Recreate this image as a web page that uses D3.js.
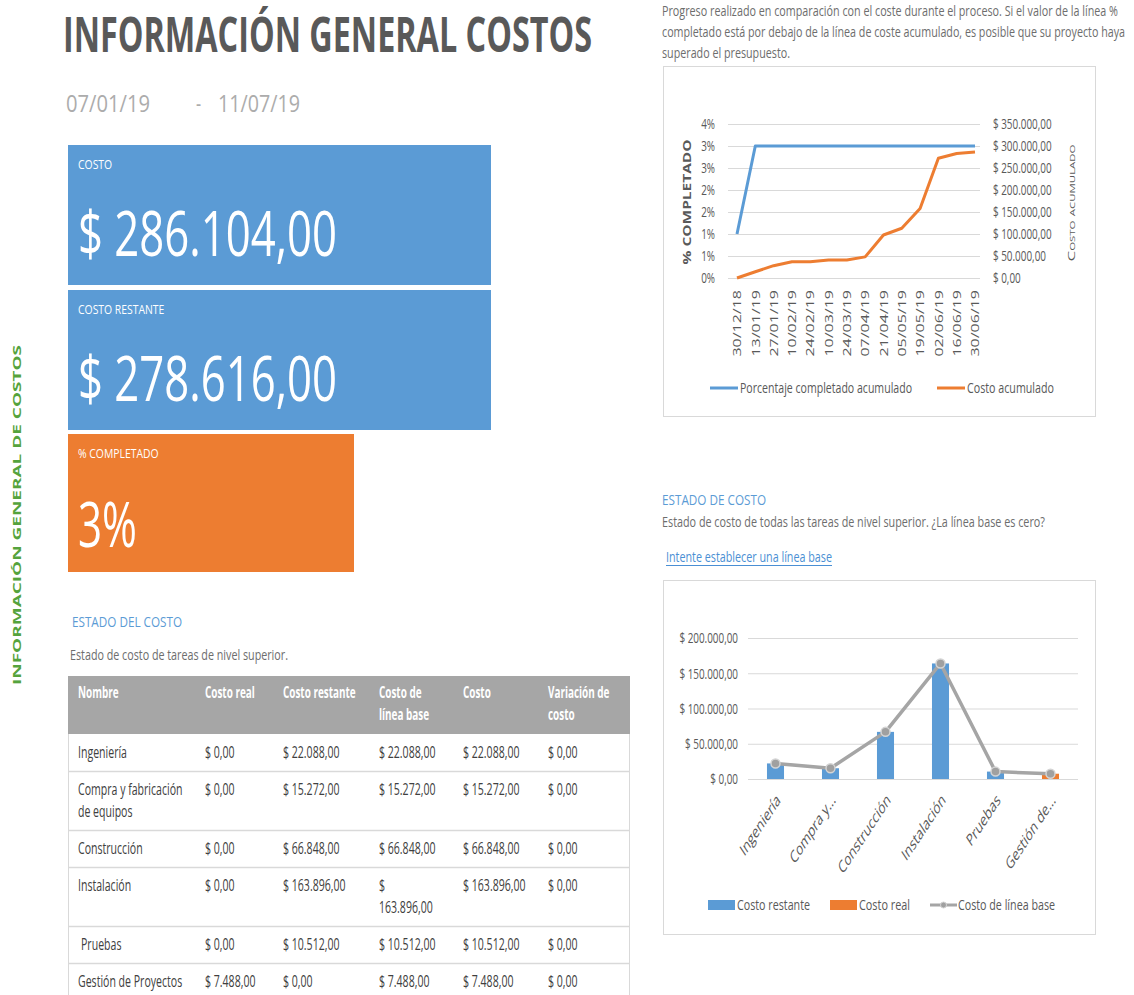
<!DOCTYPE html>
<html>
<head>
<meta charset="utf-8">
<script src="https://cdn.jsdelivr.net/npm/d3@7"></script>
<style>
  body { margin: 0; background: #fff; }
  svg { display: block; }
</style>
</head>
<body>
<script>
// ---------- data ----------
const reportTitle = "INFORMACIÓN GENERAL COSTOS";
const sideTitle = "INFORMACIÓN GENERAL DE COSTOS";
const reportStart = "07/01/19";
const reportEnd = "11/07/19";

const kpiLabels = ["COSTO", "COSTO RESTANTE", "% COMPLETADO"];
const kpiValues = [286104, 278616, 3];

const tableHeaders = ["Nombre", "Costo real", "Costo restante", "Costo de línea base", "Costo", "Variación de costo"];
const taskNames = ["Ingeniería", "Compra y fabricación de equipos", "Construcción", "Instalación", "Pruebas", "Gestión de Proyectos"];
const taskShort = ["Ingeniería", "Compra y...", "Construcción", "Instalación", "Pruebas", "Gestión de..."];
const costoReal = [0, 0, 0, 0, 0, 7488];
const costoRestante = [22088, 15272, 66848, 163896, 10512, 0];
const costoLineaBase = [22088, 15272, 66848, 163896, 10512, 7488];
const costoTotal = [22088, 15272, 66848, 163896, 10512, 7488];
const variacionCosto = [0, 0, 0, 0, 0, 0];

const fechas = ["30/12/18", "13/01/19", "27/01/19", "10/02/19", "24/02/19", "10/03/19", "24/03/19",
                "07/04/19", "21/04/19", "05/05/19", "19/05/19", "02/06/19", "16/06/19", "30/06/19"];
const pctCompletado = [1, 3, 3, 3, 3, 3, 3, 3, 3, 3, 3, 3, 3, 3];
const costoAcumulado = [0, 14300, 28000, 37000, 37000, 41000, 41000, 48000, 97700, 113000, 158000, 272000, 283000, 286104];
const pctTicks = [0, 0.5, 1, 1.5, 2, 2.5, 3, 3.5];
const costTicks = [0, 50000, 100000, 150000, 200000, 250000, 300000, 350000];
const statusTicks = [0, 50000, 100000, 150000, 200000];

const introLines = [
  "Progreso realizado en comparación con el coste durante el proceso. Si el valor de la línea %",
  "completado está por debajo de la línea de coste acumulado, es posible que su proyecto haya",
  "superado el presupuesto."
];

// ---------- style ----------
const FONT = "'Open Sans','Noto Sans',sans-serif";
const SX = 0.66;                 // horizontal squeeze used for all lettering
const BLUE = "#5b9bd5", ORANGE = "#ed7d31", GRAY = "#a5a5a5", GRID = "#d9d9d9";
const INK = "#595959";

const money = d3.formatLocale({ decimal: ",", thousands: ".", grouping: [3], currency: ["$ ", ""] }).format("$,.2f");

const svg = d3.select("body").append("svg").attr("width", 1134).attr("height", 995);
svg.append("rect").attr("width", 1134).attr("height", 995).attr("fill", "#fff");

function txt(parent, x, y, s, o = {}) {
  const sx = o.sx ?? SX;
  const t = parent.append("text")
    .attr("transform", `translate(${x},${y}) scale(${sx},1)${o.rotate ? ` rotate(${o.rotate})` : ""}`)
    .attr("font-family", FONT)
    .attr("font-size", o.size ?? 15)
    .attr("font-weight", o.weight ?? 400)
    .attr("fill", o.fill ?? INK)
    .attr("text-anchor", o.anchor ?? "start")
    .text(s);
  if (o.dy) t.attr("dy", o.dy);
  if (o.width) t.attr("textLength", o.width / sx).attr("lengthAdjust", "spacingAndGlyphs");
  if (o.len) t.attr("textLength", o.len).attr("lengthAdjust", "spacingAndGlyphs");
  if (o.variant) t.attr("font-variant", o.variant);
  return t;
}

function styleTicks(g, size, sx = SX) {
  g.select(".domain").remove();
  g.selectAll("text")
    .attr("font-family", FONT)
    .attr("font-size", size)
    .attr("fill", INK)
    .attr("transform", `scale(${sx},1)`);
}

// ---------- header ----------
txt(svg, 63, 52, reportTitle, { size: 49, weight: 700, fill: "#595959", width: 529 });
txt(svg, 66, 112, reportStart, { size: 24, fill: "#acacac", width: 84 });
txt(svg, 196, 112, "-", { size: 24, fill: "#acacac" });
txt(svg, 218, 112, reportEnd, { size: 24, fill: "#acacac", width: 82 });

// side caption
txt(svg, 21, 515, sideTitle, { size: 14, weight: 700, fill: "#55a33c", anchor: "middle", rotate: -90, len: 340, sx: 0.8 });

// ---------- KPI tiles ----------
const tiles = [
  { x: 68, y: 145, w: 423, h: 140, fill: BLUE, text: money(kpiValues[0]), tw: 259 },
  { x: 68, y: 290, w: 423, h: 140, fill: BLUE, text: money(kpiValues[1]), tw: 259 },
  { x: 68, y: 434, w: 286, h: 138, fill: ORANGE, text: kpiValues[2] + "%", tw: 59 }
];
tiles.forEach((t, i) => {
  svg.append("rect").attr("x", t.x).attr("y", t.y).attr("width", t.w).attr("height", t.h).attr("fill", t.fill);
  txt(svg, t.x + 10, t.y + 24, kpiLabels[i], { size: 13, fill: "#fff", sx: 0.8 });
  txt(svg, t.x + 10, t.y + 111 + (i === 2 ? 2 : 0), t.text, { size: 63, fill: "#fff", width: t.tw });
});

// ---------- cost status table ----------
txt(svg, 72, 627, "ESTADO DEL COSTO", { size: 15, fill: BLUE, width: 110 });
txt(svg, 70, 660, "Estado de costo de tareas de nivel superior.", { size: 15, fill: "#6d6d6d", width: 218 });

const colX = [78, 205, 283, 379, 463, 548];
const colWrap = [118, 74, 90, 59, 84, 80];
const tableLeft = 68, tableRight = 630;

function wrapLines(parent, s, maxW, size, weight, sx) {
  const probe = parent.append("text").attr("font-family", FONT).attr("font-size", size).attr("font-weight", weight);
  const words = s.split(" ");
  const lines = [];
  let cur = "";
  words.forEach(w => {
    const test = cur ? cur + " " + w : w;
    probe.text(test);
    if (cur && probe.node().getComputedTextLength() * sx > maxW) { lines.push(cur); cur = w; }
    else cur = test;
  });
  if (cur) lines.push(cur);
  probe.remove();
  return lines;
}

const table = svg.append("g");
// header band
const headSX = 0.62;
const headLines = tableHeaders.map((h, j) => wrapLines(table, h, colWrap[j] + 10, 16, 700, headSX));
const headH = 58;
table.append("rect").attr("x", tableLeft).attr("y", 676).attr("width", tableRight - tableLeft).attr("height", headH).attr("fill", "#a6a6a6");
headLines.forEach((ls, j) => ls.forEach((l, k) => txt(table, colX[j], 676 + 22 + k * 22, l, { size: 16, weight: 700, fill: "#fff", sx: headSX })));

// body rows
const rows = taskNames.map((n, i) => [n, money(costoReal[i]), money(costoRestante[i]), money(costoLineaBase[i]), money(costoTotal[i]), money(variacionCosto[i])]);
let rowTop = 676 + headH;
table.append("line").attr("x1", tableLeft + 0.5).attr("x2", tableLeft + 0.5).attr("y1", rowTop).attr("y2", 995).attr("stroke", GRID);
table.append("line").attr("x1", tableRight - 0.5).attr("x2", tableRight - 0.5).attr("y1", rowTop).attr("y2", 995).attr("stroke", GRID);
rows.forEach((cells, i) => {
  const cellLines = cells.map((c, j) => wrapLines(table, c, colWrap[j], 16, 400, SX));
  const n = d3.max(cellLines, l => l.length);
  cellLines.forEach((ls, j) => ls.forEach((l, k) =>
    txt(table, colX[j] + (j === 0 && i === 4 ? 3 : 0), rowTop + 24 + k * 22, l, { size: 16, fill: "#404040" })));
  rowTop += 15 + 22 * n;
  if (i < rows.length - 1)
    table.append("line").attr("x1", tableLeft).attr("x2", tableRight).attr("y1", rowTop + 0.5).attr("y2", rowTop + 0.5).attr("stroke", GRID).attr("stroke-width", 1.5);
});

// ---------- intro text ----------
const lineWidths = [456, 463, 128];
introLines.forEach((l, i) => txt(svg, 662, 16 + i * 21, l, { size: 14, fill: "#6d6d6d", width: lineWidths[i] }));

// ---------- chart 1: progress vs cumulative cost ----------
const c1 = svg.append("g");
c1.append("rect").attr("x", 663.5).attr("y", 66.5).attr("width", 432).attr("height", 350).attr("fill", "#fff").attr("stroke", GRID);

const xD = d3.scalePoint().domain(fechas).range([737, 975]);
const yP = d3.scaleLinear().domain([0, 3.5]).range([278, 124]);
const yC = d3.scaleLinear().domain([0, 350000]).range([278, 124]);

c1.selectAll(".grid").data(pctTicks).join("line")
  .attr("x1", 728).attr("x2", 980).attr("y1", d => yP(d) + 0.5).attr("y2", d => yP(d) + 0.5).attr("stroke", GRID);

const axL = c1.append("g").attr("transform", "translate(728,0)")
  .call(d3.axisLeft(yP).tickValues(pctTicks).tickFormat(d => Math.round(d) + "%").tickSize(0).tickPadding(13 / SX));
styleTicks(axL, 15);
const axR = c1.append("g").attr("transform", "translate(980,0)")
  .call(d3.axisRight(yC).tickValues(costTicks).tickFormat(money).tickSize(0).tickPadding(13 / SX));
styleTicks(axR, 15);
const axB = c1.append("g").attr("transform", "translate(0,278)")
  .call(d3.axisBottom(xD).tickSize(0));
axB.select(".domain").remove();
axB.selectAll("text")
  .attr("font-family", FONT).attr("font-size", 16).attr("fill", INK)
  .attr("x", 0).attr("y", 0).attr("dy", "0.35em").attr("text-anchor", "end")
  .attr("transform", `translate(0,12) scale(${SX},1) rotate(-90)`);

txt(c1, 688, 202, "% COMPLETADO", { size: 15, weight: 700, anchor: "middle", rotate: -90, len: 125, dy: "0.35em" });
txt(c1, 1072, 203, "Costo acumulado", { size: 14, anchor: "middle", rotate: -90, len: 117, dy: "0.35em", variant: "small-caps" });

c1.append("path").datum(costoAcumulado)
  .attr("d", d3.line().x((d, i) => xD(fechas[i])).y(d => yC(d)))
  .attr("fill", "none").attr("stroke", ORANGE).attr("stroke-width", 3).attr("stroke-linejoin", "round");
c1.append("path").datum(pctCompletado)
  .attr("d", d3.line().x((d, i) => xD(fechas[i])).y(d => yP(d)))
  .attr("fill", "none").attr("stroke", BLUE).attr("stroke-width", 3).attr("stroke-linejoin", "round");

// legend
c1.append("line").attr("x1", 710).attr("x2", 738).attr("y1", 388).attr("y2", 388).attr("stroke", BLUE).attr("stroke-width", 3);
txt(c1, 740, 393, "Porcentaje completado acumulado", { size: 15, width: 172 });
c1.append("line").attr("x1", 937).attr("x2", 965).attr("y1", 388).attr("y2", 388).attr("stroke", ORANGE).attr("stroke-width", 3);
txt(c1, 967, 393, "Costo acumulado", { size: 15, width: 87 });

// ---------- chart 2: cost status ----------
txt(svg, 662, 505, "ESTADO DE COSTO", { size: 15, fill: BLUE, width: 104 });
txt(svg, 662, 527, "Estado de costo de todas las tareas de nivel superior. ¿La línea base es cero?", { size: 14, fill: "#6d6d6d", width: 383 });
txt(svg, 666, 562, "Intente establecer una línea base", { size: 14, fill: "#4a8fd4", width: 166 });
svg.append("line").attr("x1", 666).attr("x2", 832).attr("y1", 565.5).attr("y2", 565.5).attr("stroke", "#4a8fd4");

const c2 = svg.append("g");
c2.append("rect").attr("x", 663.5).attr("y", 580.5).attr("width", 432).attr("height", 354).attr("fill", "#fff").attr("stroke", GRID);

const x2 = d3.scaleBand().domain(taskNames).range([748, 1078]).paddingInner(0.69).paddingOuter(0.345);
const y2 = d3.scaleLinear().domain([0, 200000]).range([779, 638]);

c2.selectAll(".grid").data(statusTicks).join("line")
  .attr("x1", 748).attr("x2", 1078).attr("y1", d => y2(d) + 0.5).attr("y2", d => y2(d) + 0.5).attr("stroke", GRID);

const ax2L = c2.append("g").attr("transform", "translate(748,0)")
  .call(d3.axisLeft(y2).tickValues(statusTicks).tickFormat(money).tickSize(0).tickPadding(10 / SX));
styleTicks(ax2L, 15);

const ax2B = c2.append("g").attr("transform", "translate(0,779)")
  .call(d3.axisBottom(x2).tickSize(0).tickFormat((d, i) => taskShort[i]));
ax2B.select(".domain").remove();
ax2B.selectAll("text")
  .attr("font-family", FONT).attr("font-size", 17).attr("fill", INK)
  .attr("x", 0).attr("y", 0).attr("dy", "0.35em").attr("text-anchor", "end")
  .attr("transform", `translate(3,18) scale(${SX},1) rotate(-45)`);

const stackRows = taskNames.map((n, i) => ({ name: n, restante: costoRestante[i], real: costoReal[i] }));
const series = d3.stack().keys(["restante", "real"])(stackRows);
const seriesColor = { restante: BLUE, real: ORANGE };
c2.selectAll(".series").data(series).join("g").attr("fill", s => seriesColor[s.key])
  .selectAll("rect").data(s => s).join("rect")
  .attr("x", d => x2(d.data.name)).attr("width", x2.bandwidth())
  .attr("y", d => y2(d[1])).attr("height", d => y2(d[0]) - y2(d[1]));

const cx = n => x2(n) + x2.bandwidth() / 2;
c2.append("path").datum(costoLineaBase)
  .attr("d", d3.line().x((d, i) => cx(taskNames[i])).y(d => y2(d)))
  .attr("fill", "none").attr("stroke", GRAY).attr("stroke-width", 3.5).attr("stroke-linejoin", "round");
c2.selectAll(".mk").data(costoLineaBase).join("circle")
  .attr("cx", (d, i) => cx(taskNames[i])).attr("cy", d => y2(d)).attr("r", 4.5)
  .attr("fill", "#a0a0a0").attr("stroke", "#d4d4d4").attr("stroke-width", 1.5);

// legend
c2.append("rect").attr("x", 708).attr("y", 900).attr("width", 27).attr("height", 10).attr("fill", BLUE);
txt(c2, 737, 910, "Costo restante", { size: 15, width: 73 });
c2.append("rect").attr("x", 830).attr("y", 900).attr("width", 27).attr("height", 10).attr("fill", ORANGE);
txt(c2, 859, 910, "Costo real", { size: 15, width: 51 });
c2.append("line").attr("x1", 930).attr("x2", 957).attr("y1", 905).attr("y2", 905).attr("stroke", GRAY).attr("stroke-width", 3);
c2.append("circle").attr("cx", 943.5).attr("cy", 905).attr("r", 3).attr("fill", "#a0a0a0").attr("stroke", "#d4d4d4");
txt(c2, 958, 910, "Costo de línea base", { size: 15, width: 97 });
</script>
</body>
</html>
